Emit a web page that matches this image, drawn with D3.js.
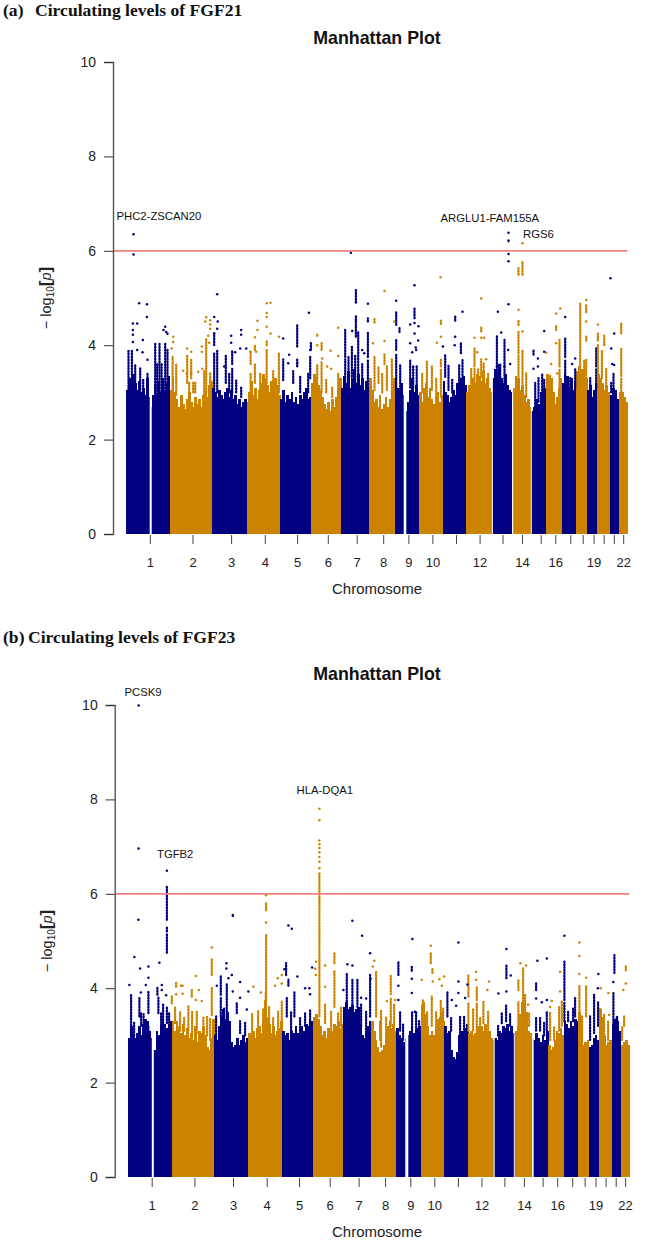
<!DOCTYPE html>
<html><head><meta charset="utf-8">
<script src="https://cdn.jsdelivr.net/npm/d3@7/dist/d3.min.js"></script>
<style>html,body{margin:0;padding:0;background:#fff}svg{display:block}</style>
</head><body><svg id="c" width="647" height="1240"></svg>
<script>
const chromosomes = d3.range(1,23);
const chrEnds = [43.4,86.2,120.3,154,185,215,242.8,268.3,292.7,316.3,339.9,366.2,386.4,405.1,419.8,435.5,449.8,460.6,470.7,483.5,492.5,501];
const chrTicks = [23.6,66.3,104.9,138.6,170.9,201.6,230.5,257,282.2,306.2,329.8,353.4,376.3,395.8,414.5,429.1,444.1,456.5,467.4,477.5,487.6,497];
const chrTickLabels = ["1","2","3","4","5","6","7","8","9","10","","12","","14","","16","","","19","","","22"];
const yTicks = [0,2,4,6,8,10];
const threshold = 6;

// top of the solid mass of points, per chromosome
const fgf21Mass = [
 [3.05,3.3,3.15,3.4,3.2,3.05,3.25,3.0,3.1,2.95,3.3,2.9,2.7,2.95,3.15,2.95,3.25,3.0,3.3,3.05,3.2,3.35],
 [3.05,3.3,3.0,2.85,2.7,2.95,2.75,2.65,2.85,3.0,2.8,2.7,2.9,2.75,2.85,2.7,2.95,3.05,2.9,3.15,3.25],
 [3.1,3.0,2.9,3.05,2.95,2.85,3.0,3.1,2.9,3.05,2.85,2.95,2.75,2.85,2.7,2.8,2.85],
 [2.8,3.0,3.25,2.95,3.1,2.85,3.05,3.2,3.4,3.3,3.15,3.0,3.25,3.05,3.3,3.15,2.95],
 [2.85,3.05,2.8,2.95,2.85,3.0,2.8,2.9,2.75,2.95,2.85,3.0,3.1,2.85,2.9],
 [3.2,3.4,3.3,3.15,3.05,2.9,2.75,2.65,2.8,2.6,2.85,2.7,2.9,3.1,3.3],
 [3.1,3.35,3.2,3.45,3.1,3.3,3.5,3.2,3.4,3.15,3.3,3.05,3.25,3.1],
 [3.3,3.05,2.8,2.85,2.7,2.95,2.65,2.75,2.9,2.7,2.85,3.0,3.3],
 [3.3,3.1,3.05,3.2,2.95,2.6,2.8,3.05,3.3,3.0,3.15,2.95],
 [3.0,2.8,3.1,3.2,2.9,3.1,2.85,2.75,2.9,3.0,2.8,2.95],
 [3.25,3.0,2.95,2.8,2.9,3.05,2.95,3.2,3.1,3.3,3.35,3.15],
 [3.0,3.15,3.05,3.3,3.2,3.4,3.35,3.25,3.45,3.2,3.3,3.1,3.0],
 [3.3,3.5,3.4,3.6,3.3,3.2,3.4,3.15,3.05,3.0],
 [3.1,3.35,3.3,3.05,3.15,2.95,2.8,2.85,2.7],
 [2.6,2.7,2.85,2.75,3.0,3.05,3.1],
 [3.4,3.35,3.3,3.0,2.75,2.9,3.1,3.3],
 [3.2,3.4,3.35,3.1,3.3,3.05,3.25],
 [3.45,3.55,3.5,3.5,3.3],
 [3.05,3.15,2.9,3.05,3.2],
 [3.4,3.3,3.2,3.05,3.15,3.0],
 [2.95,3.1,3.05,2.85],
 [3.0,3.0,2.9,2.8]];
const fgf21Gaps = [[24.5,2],[278.8,2.6],[366.2,1],[386.4,1.2],[405.1,1]];
// [position, low, high]
const fgf21Runs = [
 [2.3,3.0,3.88],[5.7,3.0,3.91],[9,3.0,3.6],[14,3.0,3.51],[17,3.0,3.3],[21.3,3.0,3.4],[29,2.9,4.05],[31,2.9,3.6],[33.3,2.9,4.05],[35.4,2.9,3.6],[39,2.9,4.05],[41.3,2.9,3.9],
 [46.4,2.95,3.75],[50,2.95,3.6],[61,3.2,3.8],[65,3.3,3.7],[63,3.0,3.2],[67,3.0,3.22],[69,3.0,3.2],[78,2.95,3.45],[80,3.0,4.15],[84,2.95,3.4],
 [88,3.0,3.85],[88,4.0,4.25],[91,3.0,3.9],[99.6,3.2,3.8],[106,3.0,3.5],[106,3.6,3.9],[103,3.0,3.4],[110,3.0,3.25],[115,2.9,3.1],
 [124.4,3.0,3.4],[124.4,3.6,3.86],[128.7,3.2,3.6],[128.7,3.9,4.0],[134,3.0,3.4],[140.5,3.2,3.9],[140.5,4.0,4.1],[147,3.0,3.45],[152.7,3.0,3.85],
 [157,3.26,3.7],[167,3.2,3.45],[171,3.55,3.7],[171,3.97,4.43],[174,3.0,3.35],[182,3.0,3.4],[184.7,3.9,4.07],[184,3.3,3.75],
 [191,3.0,3.6],[191,4.2,4.25],[195.4,3.0,3.65],[195.4,3.9,4.07],[200,3.0,3.3],[206,2.9,3.1],[212,3.0,3.4],
 [219,3.75,4.35],[219,3.2,3.7],[222.3,3.05,3.76],[225.7,3.33,3.97],[229,3.2,3.8],[229.7,4.9,5.19],[229.7,4.53,4.64],[229.7,4.18,4.5],[232,3.33,4.28],[236,3.1,3.6],[241.7,3.75,4.3],[241.7,3.1,3.7],[241.7,4.5,4.57],
 [248.3,3.05,3.75],[248.3,4.48,4.55],[252.3,3.2,3.55],[256,3.0,3.4],[258.3,3.6,3.82],[260.7,3.05,3.55],[265.7,2.9,3.7],
 [270,3.9,4.14],[270,4.43,4.71],[270,3.1,3.8],[273.3,4.28,4.39],[274,3.0,3.6],[284,3.1,3.7],[287,3.1,3.55],[288.3,4.57,4.8],[290.5,3.1,3.55],
 [296,3.0,3.4],[300.7,3.33,3.65],[300.7,2.9,3.3],[305.7,3.05,3.55],[310,2.9,3.3],[314.7,3.55,3.7],[314.7,2.9,3.5],[314.7,4.45,4.52],
 [319,3.33,3.79],[322.3,3.05,3.58],[329,4.52,4.62],[334.7,3.83,4.07],[333,3.0,3.6],[336.3,3.05,3.7],[326,3.0,3.3],
 [345,3.0,3.5],[348.3,3.55,3.93],[348.3,3.0,3.5],[352,3.1,3.5],[355,3.33,3.7],[355,4.29,4.41],[357.5,3.1,3.65],[362,3.0,3.4],
 [370.7,3.55,4.22],[370.7,3.1,3.55],[378.3,3.55,4.11],[378.3,3.1,3.55],[374,3.2,3.6],[382.3,6.2,6.25],
 [392.3,3.83,4.29],[392.3,2.9,3.8],[392.3,4.43,4.53],[392.3,5.49,5.63],[396.3,5.49,5.78],[396.3,3.0,3.9],[400,2.9,3.4],
 [407.3,3.8,3.9],[409,2.7,3.2],[412.3,2.8,3.3],[416,2.8,3.4],[418,3.0,3.3],
 [424,2.9,3.35],[430,4.32,4.43],[433.3,3.55,4.11],[433.3,2.9,3.5],
 [439,3.75,4.18],[439,3.1,3.7],[444,3.1,3.3],[449,3.1,3.5],
 [454,3.58,4.88],[460,4.7,4.85],[460,4.1,4.2],[460,3.3,3.7],[458,3.4,3.7],
 [464,3.1,3.3],[470,3.55,3.93],[470,3.1,3.5],
 [471.7,4.1,4.25],[471.7,3.2,4.0],[475.7,3.3,3.9],[478,4.0,4.2],[480,3.0,3.5],
 [487.3,3.0,3.4],[485,3.0,3.2],[495,4.25,4.46],[495,3.35,3.95],[495,2.9,3.3]];
// [position, value]
const fgf21Points = [
 [7.3,6.35],[7.3,5.92],[13,4.89],[20.7,4.87],[20.7,4.6],[6.7,4.46],[11,4.46],[6.7,4.32],[6.7,4.22],[6.7,4.07],[16.7,4.11],[16.3,3.85],[21.3,3.69],[11,3.9],[39,4.39],[37.3,4.32],[40,4.28],[41.3,4.24],
 [47,4.18],[47,4.07],[45.5,3.93],[61,3.93],[65,3.86],[57,3.46],[60.5,3.4],[65,3.4],[72,3.44],[75.6,3.86],[75.6,3.97],[80,4.59],[84,4.53],[84,4.44],[79,4.5],[84,4.35],[83,4.05],[82,4.2],[76,3.5],
 [91,5.08],[88,4.6],[91.5,4.5],[91,4.35],[88,4.25],[105,4.2],[105,4.05],[115,4.32],[115,4.22],[114,3.93],[120,3.93],[109,3.85],[98,3.55],
 [140.5,4.89],[144.3,4.9],[131.3,4.52],[140.5,4.68],[140.5,4.6],[140.5,4.39],[144.3,4.25],[131.3,4.32],[128.7,4.17],[124,3.86],[130,3.86],[152.7,4.18],[157,4.14],
 [182.7,4.69],[163,3.8],[162,3.62],[184,3.9],[171,3.62],
 [212,4.37],[212,3.77],[204.4,3.88],[196,3.72],[201,3.55],[205,3.5],[191,4.0],
 [224.7,5.96],[241.7,4.88],[236,3.9],[238,3.83],[226,4.3],
 [258.3,5.15],[258.3,4.09],[246.7,4.04],[268,4.5],
 [270,4.94],[288.3,5.27],[284,4.44],[288.3,4.47],[292.3,4.4],[288.3,4.25],[284,4.04],[289.5,3.95],[286,3.85],[290,3.9],[292,4.1],
 [314.3,5.44],[314.7,4.18],[310.7,4.05],[316.7,3.97],
 [336.3,4.71],[329,4.18],[328.5,4.0],
 [355,4.99],[348.3,4.16],[355,4.16],[358,4.16],[351,3.85],[360,3.7],
 [371.7,4.71],[382.3,4.87],[375,4.27],[382.3,6.38],[382.3,5.93],[382.3,5.78],[382,3.9],[384,3.6],
 [396.3,6.16],[392.3,4.75],[396.3,4.29],
 [418,4.3],[411.7,3.72],[411.7,3.55],[407.3,3.5],[418,3.86],[420,3.84],
 [430,4.67],[434,4.78],[430,4.04],[431,3.4],[425,3.6],
 [439,4.6],[449,3.72],[446,3.6],
 [460,4.96],[460,4.5],[471.7,4.44],
 [484.3,5.42],[488,4.25],[485,3.93],[486,3.6],[488,3.58]];

const fgf23Mass = [
 [2.95,3.2,3.0,2.95,3.05,3.2,3.0,3.25,3.35,3.3,3.1,2.95,2.7,2.7,3.1,3.0,3.2,3.3,3.25,3.15,3.25,3.3],
 [3.3,3.1,3.3,3.2,3.05,3.25,3.0,3.15,2.95,3.05,2.9,3.2,2.85,3.1,3.05,3.2,3.0,2.75,2.7,2.95,3.35],
 [3.0,2.9,3.2,3.4,3.55,3.35,3.5,3.3,2.85,2.75,2.8,2.95,2.8,2.9,3.0,2.85,2.95],
 [3.05,3.0,3.1,2.95,3.15,3.2,3.05,3.3,3.75,3.4,3.25,3.05,3.2,3.0,3.1,3.15,3.3],
 [3.1,3.0,3.05,2.9,3.1,3.05,3.2,3.05,3.15,3.2,3.1,3.25,3.2,3.3,3.3],
 [3.4,3.45,3.35,3.2,3.0,3.1,2.95,3.15,3.05,3.1,3.25,3.2,3.3,3.15,3.25],
 [3.6,3.7,3.55,3.6,3.65,3.5,3.55,3.6,3.25,3.0,2.95,3.05,3.2,3.3],
 [3.3,3.1,2.9,2.75,2.65,2.7,2.8,3.0,3.2,3.3,3.15,3.25,3.1],
 [3.15,3.0,2.95,2.85,2.95,3.0,3.1,3.15,3.05,3.1,3.15,3.2],
 [3.65,3.7,3.45,3.2,3.0,3.1,3.0,3.2,3.35,3.4,3.5,3.3],
 [3.2,3.05,3.1,2.7,2.55,2.5,2.65,3.0,3.1,3.05,3.15,3.25],
 [3.05,3.1,3.0,3.05,3.2,3.15,3.2,3.1,3.25,3.05,3.1,2.95,2.9],
 [2.95,2.9,3.1,3.05,3.2,3.15,3.25,3.1,3.2,3.05],
 [3.1,3.2,3.45,3.7,3.65,3.5,3.1,3.05,2.95],
 [2.9,3.05,2.95,2.85,3.0,2.9,3.1],
 [2.8,2.7,2.75,2.9,3.1,3.05,3.15,3.0],
 [3.3,3.25,3.15,3.3,3.2,3.35,3.3],
 [3.5,3.4,2.8,2.85,2.9],
 [2.75,2.8,2.95,3.0,2.9],
 [3.55,3.4,3.0,2.8,2.85,2.9],
 [3.25,3.35,3.3,3.1],
 [2.8,2.85,2.9,2.8]];
const fgf23Gaps = [[24.7,2],[278.7,3],[366.1,1],[386.2,1],[404.8,1.5]];
const fgf23Runs = [
 [3,2.97,3.86],[6,3.0,3.3],[11.3,3.4,3.8],[13,3.2,3.5],[20.3,3.47,3.93],[20.3,2.98,3.2],[15.5,3.2,3.45],
 [30.3,3.47,3.82],[29.3,3.86,4.03],[35,3.2,3.68],[33,3.2,3.5],[38.8,3.26,3.6],[38.8,4.75,5.15],[38.8,5.2,5.3],[38.8,5.45,6.18],[43.7,3.68,3.86],[41,3.2,3.5],
 [47,3.26,3.6],[48,4.03,4.12],[52,3.1,3.5],[56,3.1,3.4],[60.3,3.1,3.65],[63.7,3.82,3.96],[64,3.0,3.5],[68.7,3.05,3.5],[75.3,3.05,3.4],[79,3.0,3.4],[83.7,3.43,4.03],[83.7,4.28,4.61],[82,2.9,3.35],
 [88,2.9,3.4],[92.7,3.86,4.26],[92.7,3.4,3.8],[98.7,3.26,4.1],[96,3.3,3.6],[108.7,3.47,3.68],[112,3.05,3.3],[117,3.0,3.3],[104.7,5.53,5.57],
 [124,3.0,3.45],[130,3.0,3.55],[137.7,3.2,3.9],[138,3.75,5.16],[138,5.65,5.83],[135,3.1,3.55],[141,3.1,3.6],[145,3.1,3.4],[150,3.0,3.5],[153.7,3.2,3.75],
 [158,4.28,4.53],[158.7,3.4,3.82],[160.3,4.05,4.18],[166.3,3.4,3.93],[163,3.1,3.5],[172,3.1,3.4],[177,3.2,3.5],[182,3.2,3.54],
 [191.3,3.4,6.45],[197,3.26,3.68],[203,3.0,3.5],[206.3,3.6,4.37],[206.3,4.53,4.76],[210,3.2,3.5],[213,3.2,3.6],
 [218.7,3.6,4.33],[224.3,3.6,4.18],[229.3,3.6,4.18],[233,3.2,3.65],[238,3.0,3.5],[242,3.4,4.32],
 [248,3.4,4.35],[252,2.9,3.3],[253,2.76,3.54],[258,2.8,3.4],[262.7,3.93,4.28],[262.7,3.2,3.8],[266,3.26,3.65],
 [270.3,4.28,4.56],[272,3.1,3.5],[275,2.9,3.25],[283.7,4.37,4.46],[284,3.1,3.5],[288,3.1,3.5],[291,3.1,3.3],
 [294.7,3.6,3.78],[299,3.1,3.5],[302.7,4.53,4.74],[303.7,3.2,3.82],[304.3,4.32,4.42],[308,3.1,3.5],[312.7,3.4,3.75],[315,3.3,3.6],
 [319.3,3.4,3.95],[323,3.1,3.4],[332,3.0,3.4],[336,3.0,3.4],[340.3,3.82,4.28],[340.3,3.1,3.7],
 [345,3.1,3.55],[348.7,3.75,4.03],[348.7,3.1,3.7],[352,3.1,3.4],[355.3,3.26,3.75],[360,3.0,3.5],
 [370,3.0,3.2],[373.7,3.26,3.5],[378,3.3,3.65],[378.3,4.21,4.5],[382,3.2,3.45],
 [390.3,3.96,4.18],[390.3,3.2,3.7],[395,3.54,4.42],[397,3.47,3.9],[401,3.2,3.5],
 [408,3.96,4.1],[408,3.1,3.4],[412,3.1,3.4],[416,3.0,3.3],[418.7,3.1,3.5],
 [422,2.9,3.5],[426,2.9,3.2],[433.7,3.2,3.75],[431,3.1,3.6],
 [436.3,3.75,4.56],[436.3,3.3,3.7],[440,3.3,3.5],[447,3.4,3.8],[445,3.3,3.6],
 [451.3,3.47,4.07],[454,2.9,3.4],[458,3.4,4.07],
 [462,2.9,3.4],[466,3.05,3.86],[470,3.2,3.7],
 [472,3.05,3.6],[476,2.9,3.4],[480,2.9,3.3],
 [486.3,4.32,4.7],[485.3,3.26,3.9],[489,3.0,3.4],
 [497.7,4.38,4.47],[496,3.2,3.4],[494,2.9,3.2]];
const fgf23Points = [
 [10.5,9.99],[10.5,6.96],[10.3,5.45],[6.3,4.66],[12,4.42],[20.3,4.46],[20.3,4.22],[1.3,4.07],[17.7,4.07],[12.7,3.91],[31.3,4.54],[38.8,6.49],
 [33.7,4.07],[33.7,3.96],[38,3.85],[48,3.87],[53,4.05],[54.5,4.05],[67.7,4.26],[70.7,3.96],[54.5,3.88],[67.7,3.75],[73.7,3.73],[83.7,4.86],
 [98.3,4.53],[98.3,4.42],[103.7,4.28],[100.3,4.21],[88.7,4.05],[104.7,3.93],[112,4.13],[120.3,3.93],[118.7,3.55],[112,3.8],
 [138,5.97],[138,5.39],[125.3,4.03],[147,4.05],[149.7,4.21],[153.7,4.28],[132.7,3.91],[153.7,4.1],
 [160.3,5.33],[163.7,5.26],[156.3,4.4],[169.3,4.25],[181.3,4.0],[177,4.0],[182,3.87],[184,4.44],
 [188,4.56],[187,4.41],[187.7,4.28],[191.3,7.8],[191.3,7.56],[191.3,7.13],[191.3,7.05],[191.3,6.97],[191.3,6.88],[191.3,6.78],[191.3,6.68],[191.3,6.54],[197,4.48],[197,4.03],[215.3,3.96],
 [224.3,5.43],[234,5.11],[242,4.74],[219.3,4.51],[224.3,4.48],[233,3.8],[238,3.78],
 [244.7,4.46],[246.3,4.58],[242.5,4.2],[258.7,3.73],[262.7,3.88],[267,3.75],
 [284.3,5.04],[283.7,4.2],[270.3,4.05],[270.3,3.75],[283.7,3.9],[286.7,3.5],
 [302.7,4.9],[293.7,4.18],[304.7,4.14],[311.3,4.19],[316,4.25],[313.7,4.05],
 [330.3,4.97],[330.3,4.14],[330.3,3.9],[328,3.63],[337,3.79],[339.3,4.08],[323.7,3.75],
 [348,4.35],[348,4.18],[361,4.14],[359.3,3.96],
 [370.3,3.89],[378.3,4.83],[382.7,4.27],[378.3,3.93],
 [392.3,4.53],[398,4.48],[400,3.65],
 [409.3,4.58],[418.7,4.63],[408,3.78],[413.7,3.7],[418.7,3.75],
 [432,4.35],[422,3.6],[423.7,3.73],[432,3.93],
 [436.3,5.11],[451.3,4.97],[451.3,4.68],[451.3,4.3],[458,4.22],[470.3,4.3],[469.7,4.0],
 [472.7,4.0],[480.3,3.9],[481,3.43],[476,3.43],
 [485.3,4.13],[488.7,3.36],[497.7,4.1],[495.3,3.96]];

const panels = [
 {heading:"(a)", headingRest:"Circulating levels of FGF21", restX:35, headY:15.5, titleY:44, top:62, bottom:534, axisX:113, left:126.2, mass:fgf21Mass, gaps:fgf21Gaps, runs:fgf21Runs, points:fgf21Points, labelX:51, labelY:298,
  notes:[["PHC2-ZSCAN20",116.5,220],["ARGLU1-FAM155A",440.5,221.5],["RGS6",523,238]]},
 {heading:"(b)", headingRest:"Circulating levels of FGF23", restX:28, headY:642.5, titleY:680, top:705, bottom:1177, axisX:114.7, left:128.1, mass:fgf23Mass, gaps:fgf23Gaps, runs:fgf23Runs, points:fgf23Points, labelX:52, labelY:941,
  notes:[["PCSK9",124.5,695.5],["TGFB2",157,858],["HLA-DQA1",296.5,794]]}
];
const navy="#000080", orange="#CC8400", redLine="#EE8080";
const sans="'Liberation Sans',Arial,sans-serif", serif="'Liberation Serif','Times New Roman',serif";
const svg=d3.select("#c");
const colorAt=p=>d3.bisectLeft(chrEnds,p)%2===0?navy:orange;

panels.forEach(P=>{
 const g=svg.append("g");
 const x=d3.scaleLinear().domain([0,501]).range([P.left,P.left+501]);
 const y=d3.scaleLinear().domain([0,10]).range([P.bottom,P.top]);
 const head=g.append("g").attr("font-family",serif).attr("font-weight","bold").attr("font-size",17.6).attr("fill","#111");
 head.append("text").attr("x",3).attr("y",P.headY).text(P.heading);
 head.append("text").attr("x",P.restX).attr("y",P.headY).text(P.headingRest);
 g.append("text").attr("x",377).attr("y",P.titleY).attr("text-anchor","middle").attr("font-family",sans).attr("font-weight","bold").attr("font-size",17.8).attr("fill","#111").text("Manhattan Plot");

 // solid mass, one band scale per chromosome
 P.mass.forEach((vals,c)=>{
  const x0=c?chrEnds[c-1]:0;
  const band=d3.scaleBand().domain(d3.range(vals.length)).range([x(x0),x(chrEnds[c])]);
  g.append("g").attr("shape-rendering","crispEdges").selectAll("rect").data(vals).join("rect")
   .attr("x",(d,i)=>band(i)).attr("width",band.bandwidth()+0.7)
   .attr("y",d=>y(d)).attr("height",d=>y(0)-y(d))
   .attr("fill",c%2===0?navy:orange);
 });
 // gaps in marker coverage
 g.append("g").selectAll("rect").data(P.gaps).join("rect")
  .attr("x",d=>x(d[0]-d[1]/2)).attr("width",d=>x(d[1])-x(0))
  .attr("y",y(4)).attr("height",y(0)-y(4)).attr("fill","#fff");
 // dense runs of points
 g.append("g").attr("stroke-linecap","round").attr("stroke-width",2.3).attr("stroke-dasharray","1 1.9").selectAll("line").data(P.runs).join("line")
  .attr("x1",d=>x(d[0])).attr("x2",d=>x(d[0])).attr("y1",d=>y(d[1])).attr("y2",d=>y(d[2]))
  .attr("stroke",d=>colorAt(d[0]));
 // single points
 g.append("g").selectAll("circle").data(P.points).join("circle")
  .attr("cx",d=>x(d[0])).attr("cy",d=>y(d[1])).attr("r",1.25).attr("fill",d=>colorAt(d[0]));

 // threshold
 g.append("line").attr("x1",P.axisX).attr("x2",x(chrEnds[21])).attr("y1",y(threshold)).attr("y2",y(threshold)).attr("stroke",redLine).attr("stroke-width",1.8);

 // axes
 const ya=g.append("g").attr("transform",`translate(${P.axisX},0)`)
  .call(d3.axisLeft(y).tickValues(yTicks).tickSize(9).tickPadding(8).tickFormat(d3.format("d")));
 ya.selectAll("path").attr("stroke","#555").attr("stroke-width",1.4);
 ya.selectAll("line").attr("stroke","#333");
 ya.selectAll("text").attr("font-family",sans).attr("font-size",14).attr("fill","#222");
 const xa=g.append("g").attr("transform",`translate(0,${P.bottom+1})`)
  .call(d3.axisBottom(d3.scaleLinear().domain([0,501]).range(x.range())).tickValues(chrTicks).tickSize(9).tickPadding(14).tickFormat((d,i)=>chrTickLabels[i]));
 xa.select("path").remove();
 xa.selectAll("line").attr("stroke","#444");
 xa.selectAll("text").attr("font-family",sans).attr("font-size",13).attr("fill","#222");
 g.append("text").attr("x",377).attr("y",P.bottom+60).attr("text-anchor","middle").attr("font-family",sans).attr("font-size",15).attr("fill","#222").text("Chromosome");

 // y label
 const t=g.append("text").attr("transform",`translate(${P.labelX},${P.labelY}) rotate(-90)`).attr("text-anchor","middle").attr("font-family",sans).attr("font-size",14.5).attr("fill","#222");
 t.append("tspan").text("\u2212 log");
 t.append("tspan").attr("font-size",10).attr("dy",3).text("10");
 t.append("tspan").attr("font-weight","bold").attr("font-size",17).attr("dy",-3).text("[");
 t.append("tspan").attr("font-style","italic").text("p");
 t.append("tspan").attr("font-weight","bold").attr("font-size",17).text("]");

 // gene labels
 g.append("g").selectAll("text").data(P.notes).join("text")
  .attr("x",d=>d[1]).attr("y",d=>d[2]).attr("font-family",sans).attr("font-size",11.3).attr("fill","#111").text(d=>d[0]);
});
</script></body></html>
